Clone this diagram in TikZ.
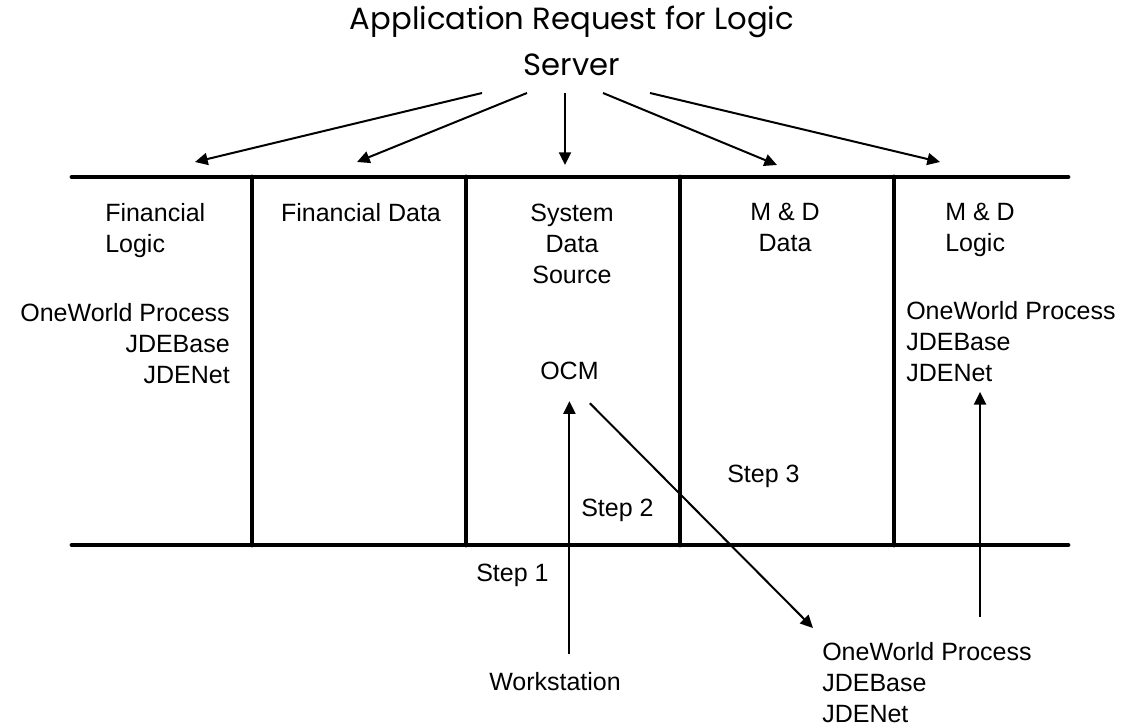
\documentclass[tikz,border=0pt]{standalone}
\usepackage{fontspec}
\setmainfont{Liberation Sans}
\newfontfamily\titlefont{Poppins}
\usetikzlibrary{arrows.meta}
\usetikzlibrary{calc}
\usetikzlibrary{positioning}
\tikzset{
  bar/.style={line width=3.6pt, line cap=round},
  link/.style={line width=1.5pt, -{Triangle[length=9.5pt,width=9pt]}},
  lbl/.style={inner sep=0pt, font=\fontsize{18.75}{23.25}\selectfont},
}

\begin{document}
\begin{tikzpicture}[x=0.75pt,y=-0.75pt]
  \useasboundingbox (0,0) rectangle (1135,727);

  \node [inner sep=0pt, align=center, anchor=north, font=\titlefont\fontsize{23}{34.5}\selectfont] (title) at (572,6) {Application Request for Logic\\Server};
  \coordinate (fan) at (570,93);

  % the two busses and the partitions
  \draw [bar] (72,177) -- (1068,177);
  \draw [bar] (72,545) -- (1068,545);
  \draw [bar] (252,177) -- (252,545);
  \draw [bar] (466,177) -- (466,545);
  \draw [bar] (680,177) -- (680,545);
  \draw [bar] (894,177) -- (894,545);

  % requests from the logic server
  \draw [link] (fan) ++(-88,0) -- (195,162);
  \draw [link] (fan) ++(-43,0) -- (357,162);
  \draw [link] (fan) ++(-5,0) -- (565,165);
  \draw [link] (fan) ++(33,0) -- (777,165);
  \draw [link] (fan) ++(80,0) -- (940,162);

  \node [lbl, align=left, anchor=north west] (finlogic) at (105,203) {Financial\\Logic};
  \node [lbl, anchor=north] (findata) at (361,203) {Financial Data};
  \node [lbl, align=center, anchor=north] (sysdata) at (572,204) {System\\Data\\Source};
  \node [lbl, align=center, anchor=north] (mddata) at (785,203) {M \& D\\Data};
  \node [lbl, align=left, anchor=north west] (mdlogic) at (945,203) {M \& D\\Logic};

  \node [lbl, align=right, anchor=north east] (owleft) at (230,303) {OneWorld Process\\JDEBase\\JDENet};
  \node [lbl, align=left, anchor=north west] (owright) at (906,301) {OneWorld Process\\JDEBase\\JDENet};
  \node [lbl, anchor=north west] (ocm) at (540,362) {OCM};

  \node [lbl, anchor=north west] (step3) at (727,465) {Step 3};
  \node [lbl, anchor=north west] (step2) at (581,499) {Step 2};
  \node [lbl, anchor=north west] (step1) at (476,564) {Step 1};
  \node [lbl, anchor=north west] (ws) at (489,672) {Workstation};
  \node [lbl, align=left, anchor=north west] (owbottom) at (822,642) {OneWorld Process\\JDEBase\\JDENet};

  % steps
  \draw [link, shorten <=13.5pt, shorten >=15.75pt] (ws.north -| ocm.south) -- (ocm.south);
  \draw [link] ($(ocm.south east)+(-9,23)$) -- ($(owbottom.north west)+(-9,-14)$);
  \coordinate (up) at (980,617);
  \draw [link, shorten >=7.5pt] (up) -- (up |- owright.south);

\end{tikzpicture}
\end{document}
